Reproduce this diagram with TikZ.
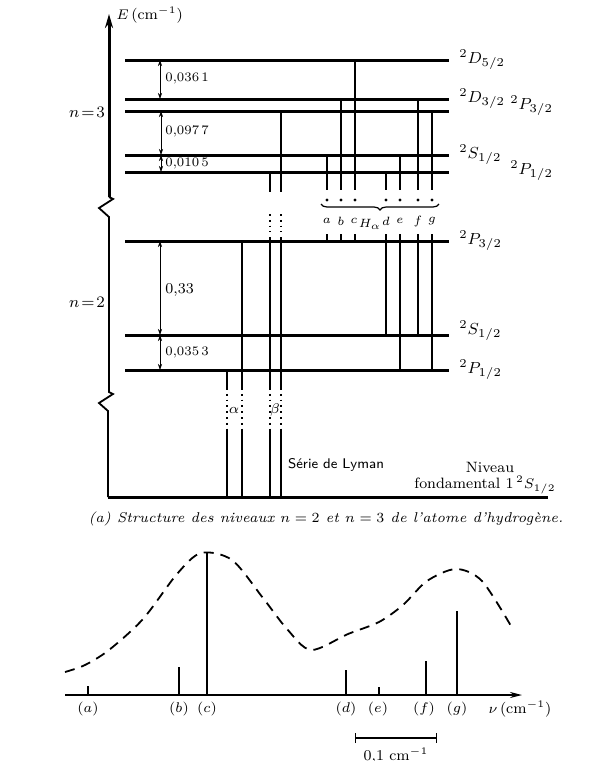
\documentclass[tikz,border=0pt]{standalone}
\usetikzlibrary{arrows.meta,decorations.pathreplacing}

\begin{document}
\begin{tikzpicture}[
    x=0.5pt, y=-0.5pt,
    level/.style={line width=1.5pt},
    trans/.style={line width=0.8pt},
    gapline/.style={line width=0.9pt, dotted},
    dim/.style={line width=0.3pt, {Stealth[length=3pt,width=2pt]}-{Stealth[length=3pt,width=2pt]}},
    dimlbl/.style={font=\fontsize{6.5}{7}\selectfont, anchor=west, inner sep=1pt},
    term/.style={font=\fontsize{8}{9}\selectfont, anchor=west, inner sep=0pt},
    small/.style={font=\fontsize{7.5}{9}\selectfont, inner sep=0pt},
    comp/.style={font=\fontsize{6.5}{7}\selectfont, inner sep=0pt},
    raie/.style={line width=1.3pt},
    profil/.style={line width=0.9pt, dash pattern=on 5pt off 3.5pt}
  ]
  \useasboundingbox (0,0) rectangle (594,761);

  % energy axis, broken twice
  \draw[line width=1.5pt, -{Stealth[length=7pt,width=4pt]}] (109,197) -- (109,14);
  \draw[line width=0.9pt] (109,197) -- (113,199) -- (99,208) -- (109,217)
    -- (109,392) -- (113,394) -- (99,403) -- (108,411) -- (108,497);
  \node[small, anchor=west] (axe) at (116,15) {$E$\,(cm$^{-1}$)};
  \node[small, font=\fontsize{8.5}{9}\selectfont] (n3) at (87,112) {$n\!=\!3$};
  \node[small, font=\fontsize{8.5}{9}\selectfont] (n2) at (87,302) {$n\!=\!2$};

  % levels
  \foreach \y in {60,99,111,155,172,241,335,370}
    \draw[level] (125,\y) -- (449,\y);
  \draw[level] (108,497) -- (548,497);

  % intervals
  \draw[dim] (160,60) -- (160,99);
  \node[dimlbl] (d361) at (163,78) {0,036\,1};
  \draw[dim] (161,111) -- (161,155);
  \node[dimlbl] (d977) at (163,131) {0,097\,7};
  \draw[dim] (161,155) -- (161,172);
  \node[dimlbl] (d105) at (163,163) {0,010\,5};
  \draw[dim] (160,241) -- (160,335);
  \node[dimlbl, font=\fontsize{7.5}{8}\selectfont] (d33) at (163,290) {0,33};
  \draw[dim] (160,335) -- (160,370);
  \node[dimlbl] (d353) at (163,352) {0,035\,3};

  % terms
  \node[term] (D52) at (459,60) {$^2D_{5/2}$};
  \node[term] (D32) at (459,99) {$^2D_{3/2}$};
  \node[term] (P32c) at (510,106) {$^2P_{3/2}$};
  \node[term] (S12c) at (459,155) {$^2S_{1/2}$};
  \node[term] (P12c) at (510,171) {$^2P_{1/2}$};
  \node[term] (P32b) at (459,241) {$^2P_{3/2}$};
  \node[term] (S12b) at (459,331) {$^2S_{1/2}$};
  \node[term] (P12b) at (459,370) {$^2P_{1/2}$};

  % H alpha components
  \foreach \x/\top/\bot in {327/155/241, 341/99/241, 355/60/241, 386/172/335,
                            400/155/370, 418/99/335, 432/111/370} {
    \draw[trans] (\x,\top) -- (\x,190);
    \fill (\x,200) circle (0.8pt);
    \draw[trans] (\x,234) -- (\x,\bot);
  }
  \draw[line width=0.6pt, decorate, decoration={brace, amplitude=3pt, mirror}]
    (321,204) -- (439,204);
  \foreach \x/\lab in {327/a, 341/b, 354/c, 386/d, 400/e, 418/f, 432/g}
    \node[comp] (h\lab) at (\x,221) {$\lab$};
  \node[comp] (Ha) at (370,224) {$H_\alpha$};

  % Lyman lines
  \foreach \x/\top in {227/370, 242/241, 270/172, 281/111} {
    \draw[trans] (\x,\top) -- (\x,388);
    \draw[gapline] (\x,388) -- (\x,430);
    \draw[trans] (\x,430) -- (\x,497);
  }
  \foreach \x/\top in {270/172, 281/111} {
    \draw[white, line width=2pt] (\x,192) -- (\x,237);
    \draw[gapline] (\x,214) -- (\x,232);
  }
  \node[small] (alpha) at (234,410) {$\alpha$};
  \node[small] (beta) at (275,410) {$\beta$};

  \node[small, font=\sffamily\fontsize{7}{9}\selectfont] (lyman) at (336,465) {Série de Lyman};
  \node[small] (niv) at (490,467) {Niveau};
  \node[small] (fond) at (485,485) {fondamental 1\,$^2S_{1/2}$};
  \node[small, font=\fontsize{7.1}{9}\selectfont] (capa) at (326,519)
    {\itshape (a) Structure des niveaux $n=2$ et $n=3$ de l'atome d'hydrogène.};

  % spectrum
  \draw[line width=0.8pt, -{Stealth[length=6pt,width=3pt]}] (65,695) -- (522,695);
  \foreach \x/\h in {88/686, 179/667, 207/552, 346/670, 379/687, 426/661, 457/611}
    \draw[raie] (\x,695) -- (\x,\h);
  \draw[profil] plot[smooth] coordinates {(65,672) (85,665) (109,650) (143,619)
    (177,574) (201,553) (232,560) (263,598) (287,629) (311,650) (348,634)
    (379,622) (403,605) (427,581) (456,569) (482,581) (511,626)};
  \foreach \x/\lab in {88/a, 179/b, 207/c, 346/d, 378/e, 424/f, 457/g}
    \node[small] (r\lab) at (\x,709) {$(\lab)$};
  \node[small] (nu) at (520,709) {$\nu$\,(cm$^{-1}$)};
  \draw[line width=0.6pt, {Bar[width=5pt]}-{Bar[width=5pt]}] (355,738) -- (437,738);
  \node[small] (ech) at (396,756) {0,1 cm$^{-1}$};
\end{tikzpicture}
\end{document}
